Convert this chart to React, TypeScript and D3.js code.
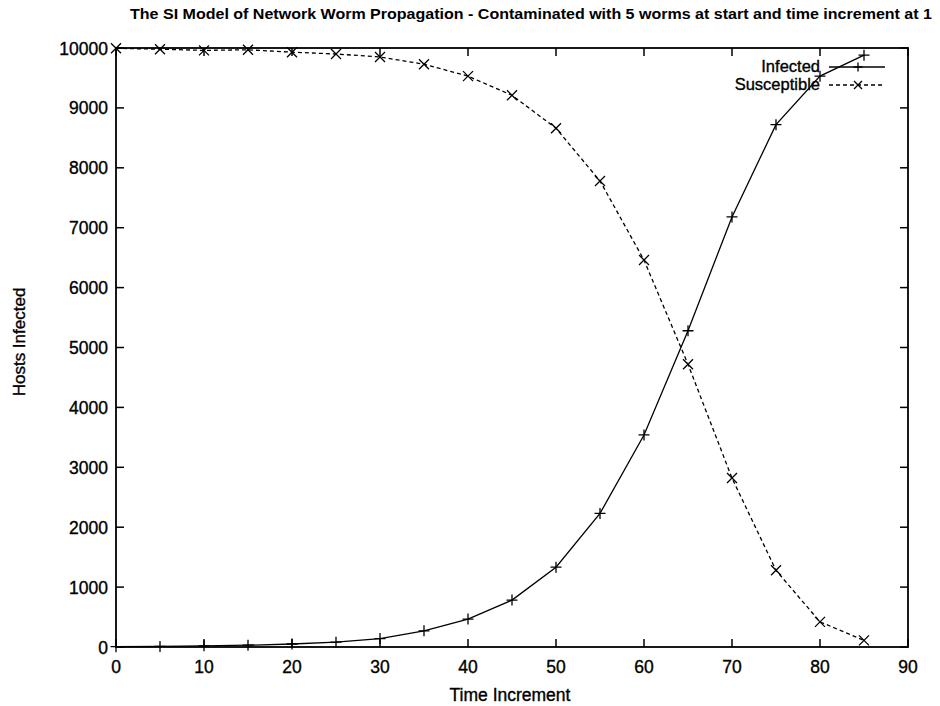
import React from "react";
import * as d3 from "d3";

const timeSteps = [0, 5, 10, 15, 20, 25, 30, 35, 40, 45, 50, 55, 60, 65, 70, 75, 80, 85];
const infected = [5, 10, 20, 30, 50, 80, 140, 270, 467, 783, 1333, 2230, 3540, 5280, 7180, 8720, 9530, 9880];
const susceptible = [9995, 9980, 9960, 9970, 9930, 9900, 9850, 9730, 9530, 9210, 8660, 7780, 6460, 4720, 2820, 1280, 420, 110];
const xTicks = [0, 10, 20, 30, 40, 50, 60, 70, 80, 90];
const yTicks = [0, 1000, 2000, 3000, 4000, 5000, 6000, 7000, 8000, 9000, 10000];
const title = "The SI Model of Network Worm Propagation - Contaminated with 5 worms at start and time increment at 1";
const seriesNames = ["Infected", "Susceptible"];

export default function App() {
  const W = 940, H = 706;
  const left = 116, right = 908, top = 48, bottom = 647;
  const x = d3.scaleLinear().domain([0, 90]).range([left, right]);
  const y = d3.scaleLinear().domain([0, 10000]).range([bottom, top]);
  const line = d3.line<number>().x((_, i) => x(timeSteps[i])).y((d) => y(d));
  const font = "Liberation Sans, Arial, sans-serif";
  const tl = 8;
  const plus = (cx: number, cy: number, k: string, s = 5.5) => (
    <path key={k} d={`M${cx - s},${cy}H${cx + s}M${cx},${cy - s}V${cy + s}`} stroke="#000" strokeWidth={1.3} />
  );
  const cross = (cx: number, cy: number, k: string, s = 5) => (
    <path key={k} d={`M${cx - s},${cy - s}L${cx + s},${cy + s}M${cx - s},${cy + s}L${cx + s},${cy - s}`} stroke="#000" strokeWidth={1.3} />
  );
  const txt = { stroke: "#000", strokeWidth: 0.35 } as const;
  return (
    <svg width={W} height={H} style={{ position: "absolute", left: 0, top: 0, background: "#fff" }} fontFamily={font}>
      <rect width={W} height={H} fill="#fff" />
      <text x={531} y={19} textAnchor="middle" fontSize={15} fontWeight="bold" textLength={802} lengthAdjust="spacingAndGlyphs">{title}</text>
      {/* frame */}
      <rect x={left} y={top} width={right - left} height={bottom - top} fill="none" stroke="#000" strokeWidth={1.8} />
      {xTicks.map((t) => (
        <g key={"x" + t}>
          <line x1={x(t)} x2={x(t)} y1={bottom} y2={bottom - tl} stroke="#000" strokeWidth={1.5} />
          <line x1={x(t)} x2={x(t)} y1={top} y2={top + tl} stroke="#000" strokeWidth={1.5} />
          <text x={x(t)} y={bottom + 26} textAnchor="middle" fontSize={17.5} {...txt}>{t}</text>
        </g>
      ))}
      {yTicks.map((t) => (
        <g key={"y" + t}>
          <line x1={left} x2={left + tl} y1={y(t)} y2={y(t)} stroke="#000" strokeWidth={1.5} />
          <line x1={right} x2={right - tl} y1={y(t)} y2={y(t)} stroke="#000" strokeWidth={1.5} />
          <text x={left - 8} y={y(t) + 6.5} textAnchor="end" fontSize={17.5} {...txt}>{t}</text>
        </g>
      ))}
      <text x={510} y={701} textAnchor="middle" fontSize={17.5} {...txt}>Time Increment</text>
      <text transform={`translate(25,342) rotate(-90)`} textAnchor="middle" fontSize={17} {...txt}>Hosts Infected</text>
      {/* series */}
      <path d={line(infected) || ""} fill="none" stroke="#000" strokeWidth={1.3} />
      <path d={line(susceptible) || ""} fill="none" stroke="#000" strokeWidth={1.3} strokeDasharray="4,3" />
      {infected.map((v, i) => plus(x(timeSteps[i]), y(v), "p" + i))}
      {susceptible.map((v, i) => cross(x(timeSteps[i]), y(v), "c" + i))}
      {/* legend */}
      <text x={820} y={72} textAnchor="end" fontSize={16.5} {...txt}>{seriesNames[0]}</text>
      <line x1={829} x2={885} y1={67} y2={67} stroke="#000" strokeWidth={1.3} />
      {plus(858, 67, "lp", 4.5)}
      <text x={820} y={90} textAnchor="end" fontSize={16.5} {...txt}>{seriesNames[1]}</text>
      <line x1={829} x2={885} y1={85} y2={85} stroke="#000" strokeWidth={1.3} strokeDasharray="4,3" />
      {cross(858, 85, "lc", 4)}
    </svg>
  );
}
